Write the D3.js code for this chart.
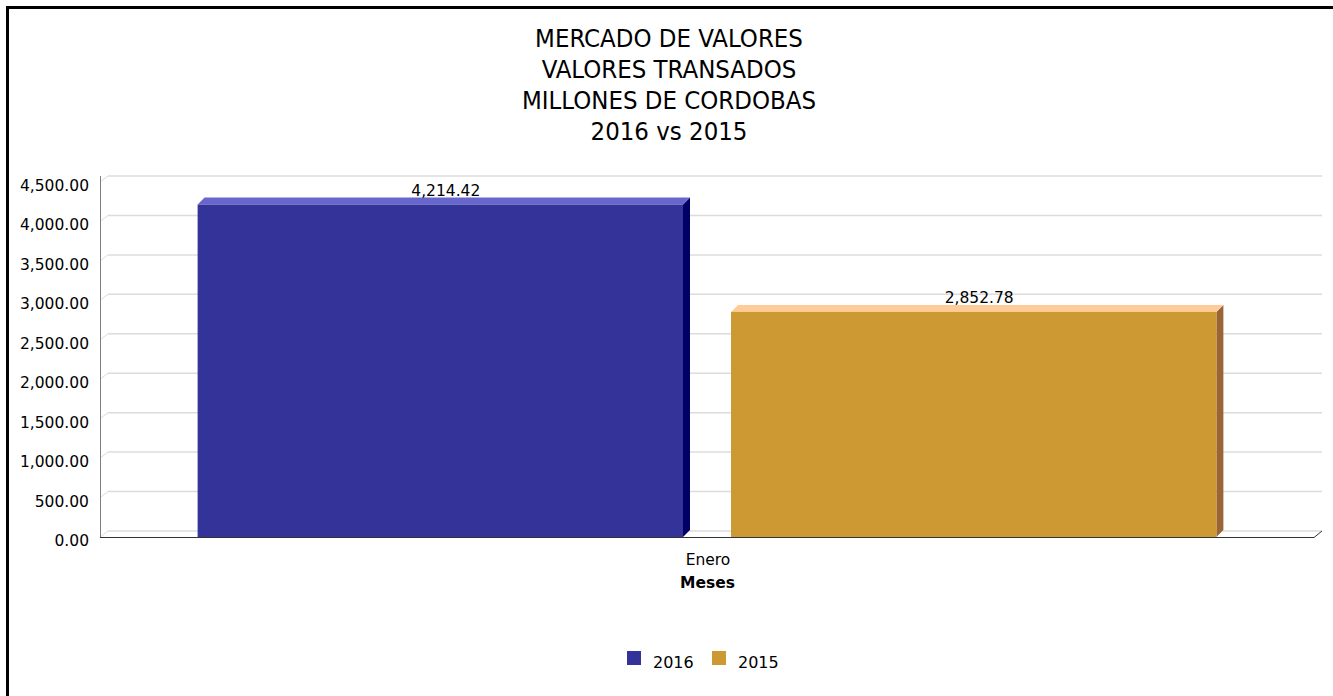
<!DOCTYPE html>
<html>
<head>
<meta charset="utf-8">
<script src="https://cdn.jsdelivr.net/npm/d3@7"></script>
<style>
  body { margin: 0; background: #fff; }
  svg { display: block; }
  text { font-family: "DejaVu Sans", Verdana, sans-serif; fill: #000; }
  .title { font-family: "DejaVu Sans Condensed", "DejaVu Sans", sans-serif; font-stretch: condensed; }
</style>
</head>
<body>
<svg id="chart"></svg>
<script>
//chart data
const titleLines = ["MERCADO DE VALORES", "VALORES TRANSADOS", "MILLONES DE CORDOBAS", "2016 vs 2015"];
const months = ["Enero"];
const seriesNames = ["2016", "2015"];
const values2016 = [4214.42];
const values2015 = [2852.78];
const yTicks = [0, 500, 1000, 1500, 2000, 2500, 3000, 3500, 4000, 4500];

//colors for each series: front, top, side
const colors = {
    "2016": { front: "#333399", top: "#6666cc", side: "#000066" },
    "2015": { front: "#cc9933", top: "#ffcc99", side: "#996633" }
};

const width = 1333, height = 696;
const svg = d3.select("#chart").attr("width", width).attr("height", height);

//outer frame
svg.append("rect")
    .attr("x", 7.5).attr("y", 7.5)
    .attr("width", width + 20).attr("height", height + 20)
    .attr("fill", "none").attr("stroke", "#000").attr("stroke-width", 3);

//title
svg.append("g").selectAll("text")
    .data(titleLines)
    .join("text")
    .attr("class", "title")
    .attr("x", 669)
    .attr("y", (d, i) => 47 + i * 31)
    .attr("text-anchor", "middle")
    .style("font-size", "25.5px")
    .text(d => d);

//plot area (front plane)
const plot = { left: 100, right: 1314, top: 182, bottom: 537 };
const gridDepth = { dx: 8, dy: 6 };
const barDepth = { dx: 7, dy: 7 };

const y = d3.scaleLinear()
    .domain([0, 4500])
    .range([plot.bottom, plot.top]);

const x0 = d3.scaleBand()
    .domain(months)
    .range([plot.left, plot.right]);

const x1 = d3.scaleBand()
    .domain(seriesNames)
    .range([0, x0.bandwidth()])
    .paddingInner(0.09)
    .paddingOuter(0.183);

//gridlines on the back wall + diagonal on the side wall
const grid = svg.append("g");
grid.selectAll("line.back")
    .data(yTicks)
    .join("line")
    .attr("class", "back")
    .attr("x1", plot.left + gridDepth.dx)
    .attr("x2", plot.right + gridDepth.dx)
    .attr("y1", d => y(d) - gridDepth.dy)
    .attr("y2", d => y(d) - gridDepth.dy)
    .attr("stroke", "#dcdcdc")
    .attr("stroke-width", 1.5);
grid.selectAll("line.side")
    .data(yTicks)
    .join("line")
    .attr("class", "side")
    .attr("x1", plot.left)
    .attr("x2", plot.left + gridDepth.dx)
    .attr("y1", d => y(d))
    .attr("y2", d => y(d) - gridDepth.dy)
    .attr("stroke", "#dcdcdc")
    .attr("stroke-width", 1);

//y axis line
svg.append("line")
    .attr("x1", plot.left + 0.5).attr("x2", plot.left + 0.5)
    .attr("y1", y(4500) - gridDepth.dy).attr("y2", plot.bottom)
    .attr("stroke", "#7f7f7f").attr("stroke-width", 1);

//floor front edge
svg.append("path")
    .attr("d", `M${plot.left},${plot.bottom + 0.5}H${plot.right}L${plot.right + gridDepth.dx},${plot.bottom - gridDepth.dy}`)
    .attr("fill", "none")
    .attr("stroke", "#333")
    .attr("stroke-width", 1);

//y tick labels
svg.append("g").selectAll("text")
    .data(yTicks)
    .join("text")
    .attr("x", 89)
    .attr("y", d => y(d) + 9)
    .attr("text-anchor", "end")
    .style("font-size", "15.5px")
    .text(d => d3.format(",.2f")(d));

//bar data
const barData = [];
months.forEach((m, i) => {
    barData.push({ month: m, series: "2016", value: values2016[i] });
    barData.push({ month: m, series: "2015", value: values2015[i] });
});

const bars = svg.append("g").selectAll("g")
    .data(barData)
    .join("g");

bars.each(function (d) {
    const g = d3.select(this);
    const xl = x0(d.month) + x1(d.series);
    const xr = xl + x1.bandwidth();
    const yt = y(d.value);
    const yb = y(0);
    const c = colors[d.series];
    //side face
    g.append("path")
        .attr("d", `M${xr},${yb}L${xr + barDepth.dx},${yb - barDepth.dy}L${xr + barDepth.dx},${yt - barDepth.dy}L${xr},${yt}Z`)
        .attr("fill", c.side);
    //top face
    g.append("path")
        .attr("d", `M${xl},${yt}L${xl + barDepth.dx},${yt - barDepth.dy}L${xr + barDepth.dx},${yt - barDepth.dy}L${xr},${yt}Z`)
        .attr("fill", c.top);
    //front face
    g.append("rect")
        .attr("x", xl).attr("y", yt)
        .attr("width", xr - xl).attr("height", yb - yt)
        .attr("fill", c.front);
    //value label
    g.append("text")
        .attr("x", (xl + xr + barDepth.dx) / 2 + 2)
        .attr("y", yt - barDepth.dy - 2)
        .attr("text-anchor", "middle")
        .style("font-size", "15.5px")
        .text(d3.format(",.2f")(d.value));
});

//x category labels
svg.append("g").selectAll("text")
    .data(months)
    .join("text")
    .attr("x", d => x0(d) + x0.bandwidth() / 2 + 1)
    .attr("y", 565)
    .attr("text-anchor", "middle")
    .style("font-size", "15.5px")
    .text(d => d);

//x axis title
svg.append("text")
    .attr("x", 707.5).attr("y", 588)
    .attr("text-anchor", "middle")
    .style("font-size", "15.5px")
    .style("font-weight", "bold")
    .text("Meses");

//legend
const legend = svg.append("g").selectAll("g")
    .data(seriesNames)
    .join("g")
    .attr("transform", (d, i) => `translate(${627 + i * 85},651)`);
legend.append("rect")
    .attr("width", 14).attr("height", 14)
    .attr("fill", d => colors[d].front);
legend.append("text")
    .attr("x", 26).attr("y", 17)
    .style("font-size", "16px")
    .text(d => d);
</script>
</body>
</html>
